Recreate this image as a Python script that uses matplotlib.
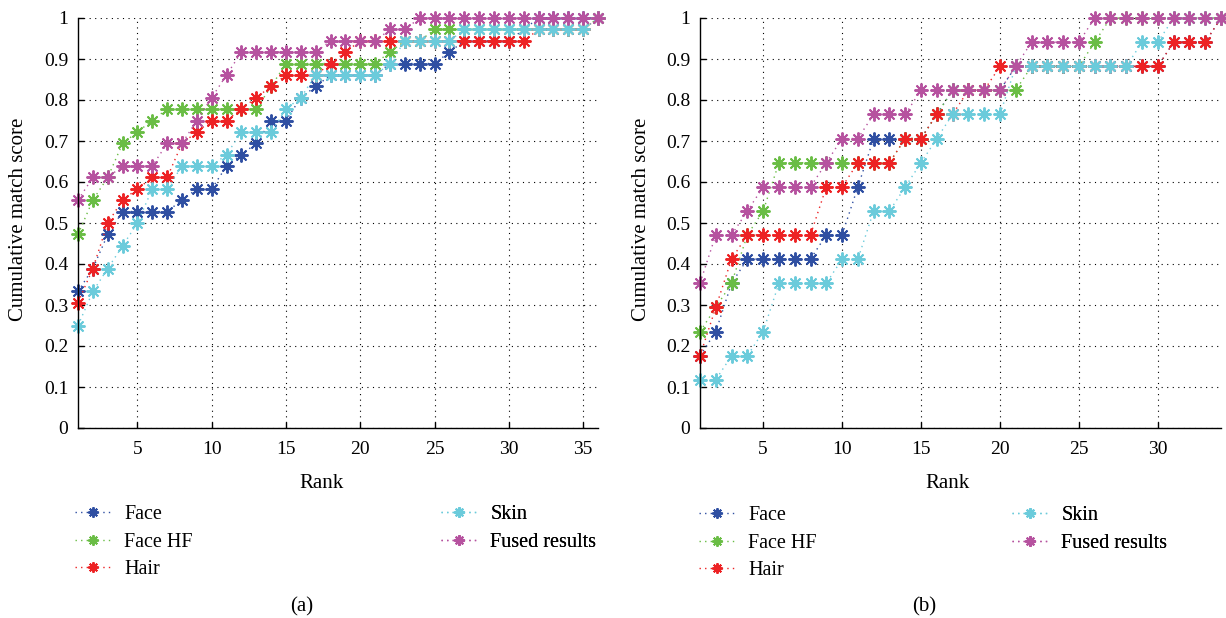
import numpy as np
import matplotlib
matplotlib.use("Agg")
import matplotlib.pyplot as plt

plt.rcParams['font.family'] = ['Liberation Serif', 'DejaVu Serif']

# ---------------- data ----------------
ranks_a = np.arange(1, 37)
ranks_b = np.arange(1, 35)

face_a = [0.333, 0.389, 0.472, 0.528, 0.528, 0.528, 0.528, 0.556, 0.583, 0.583, 0.639, 0.667,
          0.694, 0.750, 0.750, 0.806, 0.833, 0.861, 0.861, 0.861, 0.861, 0.889, 0.889, 0.889,
          0.889, 0.917, 0.944, 0.944, 0.944, 0.944, 0.972, 1.000, 1.000, 1.000, 1.000, 1.000]
facehf_a = [0.472, 0.556, 0.611, 0.694, 0.722, 0.750, 0.778, 0.778, 0.778, 0.778, 0.778, 0.778,
            0.778, 0.833, 0.889, 0.889, 0.889, 0.889, 0.889, 0.889, 0.889, 0.917, 0.944, 0.944,
            0.972, 0.972, 0.972, 0.972, 0.972, 0.972, 0.972, 0.972, 0.972, 0.972, 0.972, 1.000]
hair_a = [0.306, 0.389, 0.500, 0.556, 0.583, 0.611, 0.611, 0.694, 0.722, 0.750, 0.750, 0.778,
          0.806, 0.833, 0.861, 0.861, 0.861, 0.889, 0.917, 0.944, 0.944, 0.944, 0.944, 0.944,
          0.944, 0.944, 0.944, 0.944, 0.944, 0.944, 0.944, 0.972, 0.972, 0.972, 0.972, 1.000]
skin_a = [0.250, 0.333, 0.389, 0.444, 0.500, 0.583, 0.583, 0.639, 0.639, 0.639, 0.667, 0.722,
          0.722, 0.722, 0.778, 0.806, 0.861, 0.861, 0.861, 0.861, 0.861, 0.889, 0.944, 0.944,
          0.944, 0.944, 0.972, 0.972, 0.972, 0.972, 0.972, 0.972, 0.972, 0.972, 0.972, 1.000]
fused_a = [0.556, 0.611, 0.611, 0.639, 0.639, 0.639, 0.694, 0.694, 0.750, 0.806, 0.861, 0.917,
           0.917, 0.917, 0.917, 0.917, 0.917, 0.944, 0.944, 0.944, 0.944, 0.972, 0.972, 1.000,
           1.000, 1.000, 1.000, 1.000, 1.000, 1.000, 1.000, 1.000, 1.000, 1.000, 1.000, 1.000]

face_b = [0.176, 0.235, 0.353, 0.412, 0.412, 0.412, 0.412, 0.412, 0.471, 0.471, 0.588, 0.706,
          0.706, 0.706, 0.706, 0.765, 0.824, 0.824, 0.824, 0.824, 0.882, 0.882, 0.882, 0.882,
          0.882, 0.882, 0.882, 0.882, 0.882, 0.882, 0.941, 0.941, 0.941, 1.000]
facehf_b = [0.235, 0.294, 0.353, 0.471, 0.529, 0.647, 0.647, 0.647, 0.647, 0.647, 0.647, 0.647,
            0.647, 0.706, 0.706, 0.765, 0.824, 0.824, 0.824, 0.824, 0.824, 0.882, 0.882, 0.882,
            0.882, 0.941, 1.000, 1.000, 1.000, 1.000, 1.000, 1.000, 1.000, 1.000]
hair_b = [0.176, 0.294, 0.412, 0.471, 0.471, 0.471, 0.471, 0.471, 0.588, 0.588, 0.647, 0.647,
          0.647, 0.706, 0.706, 0.765, 0.765, 0.824, 0.824, 0.882, 0.882, 0.882, 0.882, 0.882,
          0.882, 0.882, 0.882, 0.882, 0.882, 0.882, 0.941, 0.941, 0.941, 1.000]
skin_b = [0.118, 0.118, 0.176, 0.176, 0.235, 0.353, 0.353, 0.353, 0.353, 0.412, 0.412, 0.529,
          0.529, 0.588, 0.647, 0.706, 0.765, 0.765, 0.765, 0.765, 0.882, 0.882, 0.882, 0.882,
          0.882, 0.882, 0.882, 0.882, 0.941, 0.941, 1.000, 1.000, 1.000, 1.000]
fused_b = [0.353, 0.471, 0.471, 0.529, 0.588, 0.588, 0.588, 0.588, 0.647, 0.706, 0.706, 0.765,
           0.765, 0.765, 0.824, 0.824, 0.824, 0.824, 0.824, 0.824, 0.882, 0.941, 0.941, 0.941,
           0.941, 1.000, 1.000, 1.000, 1.000, 1.000, 1.000, 1.000, 1.000, 1.000]

series_names = ["Face", "Face HF", "Hair", "Skin", "Fused results"]
series_colors = ["#2f4fa2", "#6abd45", "#ed2224", "#6bcbdb", "#b6529f"]
xticks_a = [5, 10, 15, 20, 25, 30, 35]
xticks_b = [5, 10, 15, 20, 25, 30]
yticks = [0, 0.1, 0.2, 0.3, 0.4, 0.5, 0.6, 0.7, 0.8, 0.9, 1.0]
ytick_labels = ["0", "0.1", "0.2", "0.3", "0.4", "0.5", "0.6", "0.7", "0.8", "0.9", "1"]

# ---------------- figure ----------------
W, H = 1226, 618
fig = plt.figure(figsize=(W / 100, H / 100), dpi=100)


def px_rect(x0, y0, x1, y1):
    return [x0 / W, 1 - y1 / H, (x1 - x0) / W, (y1 - y0) / H]


ax_a = fig.add_axes(px_rect(78, 18, 598, 428))
ax_b = fig.add_axes(px_rect(700, 18, 1221, 428))

marker = (8, 2, 0)
FS_TICK = 14
FS_LAB = 15
FS_LEG = 14.5


def draw(ax, x, data, xticks, xmax):
    handles = []
    for vals, name, col in zip(data, series_names, series_colors):
        h, = ax.plot(x, vals, linestyle=(0, (1, 3)), lw=1.0, color=col,
                     marker=marker, markersize=10, markeredgewidth=1.4,
                     markeredgecolor=col, label=name, clip_on=False)
        handles.append(h)
    ax.set_xlim(1, xmax)
    ax.set_ylim(0, 1)
    ax.set_xticks(xticks)
    ax.set_yticks(yticks)
    ax.set_yticklabels(ytick_labels)
    ax.grid(True, color='black', linestyle=(0, (1, 4)), lw=0.8)
    ax.set_axisbelow(True)
    for s in ['top', 'right']:
        ax.spines[s].set_visible(False)
    for s in ['left', 'bottom']:
        ax.spines[s].set_linewidth(1.0)
    ax.tick_params(direction='in', length=4, width=1, labelsize=FS_TICK)
    ax.tick_params(axis='x', pad=9)
    ax.tick_params(axis='y', pad=7)
    ax.set_ylabel("Cumulative match score", fontsize=FS_LAB)
    ax.set_xlabel("Rank", fontsize=FS_LAB, va='center')
    return handles


ha = draw(ax_a, ranks_a, [face_a, facehf_a, hair_a, skin_a, fused_a], xticks_a, 36)
hb = draw(ax_b, ranks_b, [face_b, facehf_b, hair_b, skin_b, fused_b], xticks_b, 34)

ax_a.yaxis.set_label_coords((28 - 78) / 520, 0.51)
ax_b.yaxis.set_label_coords((651 - 700) / 521, 0.51)
ax_a.xaxis.set_label_coords((321 - 78) / 520, (428 - 483) / 410)
ax_b.xaxis.set_label_coords((948 - 700) / 521, (428 - 484) / 410)


def add_legend(ax, handles, x_px, y_px):
    leg = ax.legend(handles=handles, loc='upper left',
                    bbox_to_anchor=(x_px / W, 1 - y_px / H),
                    bbox_transform=fig.transFigure, frameon=False,
                    fontsize=FS_LEG, borderpad=0, borderaxespad=0,
                    handlelength=1.75, handletextpad=0.7, labelspacing=0.42,
                    markerscale=0.75)
    ax.add_artist(leg)
    return leg


add_legend(ax_a, ha[:3], 75, 505)
add_legend(ax_a, ha[3:], 441, 505)
add_legend(ax_b, hb[:3], 699, 506)
add_legend(ax_b, hb[3:], 1012, 506)

fig.text(302 / W, 1 - 607 / H, "(a)", ha='center', va='center', fontsize=FS_LAB)
fig.text(924 / W, 1 - 607 / H, "(b)", ha='center', va='center', fontsize=FS_LAB)

fig.savefig("out.png", dpi=100)
